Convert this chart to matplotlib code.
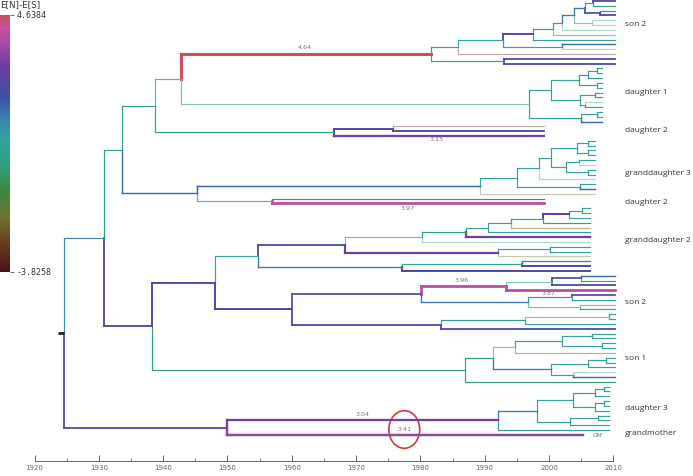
import matplotlib
matplotlib.use("Agg")
import matplotlib.pyplot as plt
import numpy as np
from matplotlib.colors import LinearSegmentedColormap, Normalize
from matplotlib.patches import Ellipse
from matplotlib.collections import LineCollection

# ---------------- data ----------------
VMIN, VMAX = -3.8258, 4.6384
PALE = 0.4          # faint (pale) branch flag / opacity
GREY = -3.3         # value of the faint greyish branches

T1 = 2010.3   # tip date, son 2 / son 1 clades
T2 = 2008.3   # daughter 1
T3 = 1999.2   # daughter 2
T4 = 2007.2   # granddaughter 3
T5 = 2006.3   # granddaughter 2
T6 = 2009.3   # daughter 3
T_GM = 2005.3 # grandmother sample

# node = (date, E[N]-E[S] of branch leading to it, [children]) ; leaf = (date, value[, pale])
son2_top = (1981.6, 4.64, [
    (1985.9, 0.5, [
        (1992.8, 0.5, [
            (1997.5, 2.4, [
                (2000.6, 0.5, [
                    (2002.0, 0.5, [
                        (2003.9, 1.3, [
                            (2005.6, 1.3, [
                                (2006.9, 0.5, [(T1, 2.2), (T1, 0.5)]),
                                (2007.9, 2.0, [(T1, 0.8), (T1, 2.2)]),
                            ]),
                            (2006.7, -0.3, [(T1, -0.3, PALE), (T1, -0.3, PALE)], 0.6),
                        ]),
                        (T1, -0.3, PALE),
                    ]),
                    (T1, 0.3, 0.6),
                ]),
                (T1, 0.5),
            ]),
            (2002.1, 0.5, [(T1, 1.5), (T1, -0.3, PALE)]),
        ]),
        (T1, GREY, PALE),
    ]),
    (1993.0, 0.5, [(T1, 2.2), (T1, 2.2)]),
])

daughter1 = (1996.9, -0.1, [
    (2000.3, 0.4, [
        (2004.6, 0.4, [
            (2006.1, 0.4, [(2007.4, 0.4, [(T2, 0.4), (T2, 0.4)]), (T2, 0.4)]),
            (2007.4, 0.4, [(T2, 0.4), (T2, 0.4)]),
        ]),
        (2004.8, 0.4, [(2007.2, 0.4, [(T2, 0.4), (T2, 0.4)]),
                       (2005.6, 0.4, [(T2, -0.3, PALE), (T2, 0.4)])]),
    ]),
    (2005.0, 0.4, [(2007.4, 0.4, [(T2, 0.4), (T2, 0.4)]), (T2, 1.5)]),
], 0.65)

daughter2_a = (1966.5, -0.1, [
    (1975.7, 2.5, [(T3, GREY, PALE), (T3, 2.3)]),
    (T3, 3.15),
])

granddaughter3 = (1989.3, 1.6, [
    (1995.1, 0.5, [
        (1998.5, 0.5, [
            (2000.3, 0.5, [
                (2004.3, 0.5, [(2006.1, 0.5, [(T4, 0.5), (T4, 0.5)]),
                               (2006.1, 0.5, [(T4, 0.5), (T4, 0.5)])]),
                (2002.7, 0.5, [(2004.6, 0.5, [(T4, 0.5), (T4, -0.3, PALE)]),
                               (2006.1, 0.5, [(T4, 0.5), (T4, 0.5)])]),
            ]),
            (T4, -0.3, PALE),
        ]),
        (2004.8, 0.5, [(T4, 0.5), (T4, 1.5)]),
    ]),
    (T4, -2.0, PALE),
])

daughter2_b = (1957.0, 0.4, [(T3, -0.6), (T3, 3.97)], 0.8)

granddaughter2_a = (1968.3, 2.2, [
    (1980.3, 0.3, [
        (1987.1, -0.5, [
            (1990.5, 0.5, [
                (1994.1, 0.3, [
                    (1999.0, 0.5, [
                        (2003.1, 2.6, [(2005.2, 0.5, [(T5, 0.5), (T5, 0.5)]), (T5, 0.5)]),
                        (T5, 0.0),
                    ]),
                    (T5, GREY, PALE),
                ]),
                (T5, 0.5),
            ]),
            (T5, 3.0),
        ]),
        (T5, -0.3, PALE),
    ], 0.7),
    (1992.1, 2.9, [(2000.1, 0.5, [(T5, 0.5), (T5, 0.5)]), (T5, -2.0, PALE)]),
])

granddaughter2_b = (1977.1, 1.3, [
    (1995.8, 0.5, [(T5, 1.2), (T5, 2.5)]),
    (T5, 2.5),
])

son2_low_a = (1980.1, 2.1, [
    (1993.3, 3.96, [
        (2000.4, -0.2, [(2005.0, 2.0, [(T1, 1.5), (T1, 0.0)]), (T1, 2.2)], 0.6),
        (T1, 3.9),
    ]),
    (1996.7, 1.3, [
        (2003.6, 0.0, [(T1, 2.0), (T1, 0.5)]),
        (2004.8, 0.5, [(T1, GREY, PALE), (T1, 0.5)], 0.7),
    ]),
])

son2_low_b = (1983.2, 2.2, [
    (1996.2, 0.0, [(2009.3, GREY, [(T1, 0.5), (T1, 0.5)], PALE), (T1, 0.5)]),
    (T1, 2.2),
])

son1 = (1987.0, -0.5, [
    (1991.3, 0.0, [
        (1994.7, -0.2, [
            (2002.1, 0.3, [(2006.7, 0.5, [(T1, 0.5), (T1, 0.5)]),
                           (2008.3, 0.5, [(T1, 0.5), (T1, 0.5)])]),
            (T1, GREY, PALE),
        ], 0.6),
        (2000.3, 1.3, [
            (2006.1, 0.5, [(2008.9, 0.5, [(T1, 0.5), (T1, 0.5)]), (T1, 0.5)]),
            (2003.7, 0.5, [(T1, -0.2, PALE), (T1, 1.5)]),
        ]),
    ]),
    (T1, -0.3),
])

daughter3 = (1992.0, 3.04, [
    (1998.2, 1.3, [
        (2003.7, 0.5, [(2007.2, 0.5, [(2008.5, 0.5, [(T6, 0.5), (T6, 0.5)]), (T6, 0.5)]),
                       (2007.2, 0.5, [(2008.5, 0.5, [(T6, 0.5), (T6, 0.5)]), (T6, 0.5)])]),
        (2003.3, 0.0, [(2007.6, 0.5, [(T6, 0.5), (T6, 0.5)]), (T6, 0.5)]),
    ]),
    (T6, 0.5),
])

grandmother = (T_GM, 3.41)

# backbone
node_N = (1942.8, 0.7, [son2_top, daughter1], 0.8)
node_L = (1938.7, -0.1, [node_N, daughter2_a])
node_M = (1945.3, 1.5, [granddaughter3, daughter2_b])
node_K = (1933.6, -0.1, [node_L, node_M])
node_I2 = (1954.8, 0.5, [granddaughter2_a, granddaughter2_b])
node_S2 = (1960.0, 2.5, [son2_low_a, son2_low_b])
node_215 = (1948.1, 2.4, [node_I2, node_S2])
node_152 = (1938.3, 2.3, [node_215, son1])
node_104 = (1930.8, 1.0, [node_K, node_152])
node_GM = (1950.0, 2.2, [daughter3, grandmother])
root = (1924.6, 1.0, [node_104, node_GM])

clade_labels = ["son 2", "daughter 1", "daughter 2", "granddaughter 3", "daughter 2",
                "granddaughter 2", "son 2", "son 1", "daughter 3", "grandmother"]
clade_label_rows = [4.8, 18.9, 26.9, 35.7, 41.8, 49.6, 62.6, 74.1, 84.6, 89.7]

branch_texts = ["4.64", "3.15", "3.97", "3.96", "3.87", "3.04", "3.41"]
branch_text_x = [1962.1, 1982.5, 1978.0, 1986.5, 2000.0, 1971.0, 1977.5]
branch_text_row = [9.6, 28.8, 43.0, 57.9, 60.7, 85.7, 88.8]

# ---------------- colours ----------------
cmap = LinearSegmentedColormap.from_list("enes", [
    (0.00, "#4a1518"), (0.12, "#6a4020"), (0.21, "#6e7530"), (0.32, "#3a8a3c"),
    (0.41, "#32a07a"), (0.52, "#35a2a2"), (0.60, "#3a80b0"), (0.68, "#4050a8"),
    (0.80, "#6a3ea2"), (0.90, "#b04aa8"), (0.95, "#c850a0"), (1.00, "#c85060")])
norm = Normalize(VMIN, VMAX)


def is_leaf(n):
    return not (len(n) >= 3 and isinstance(n[2], list))


def alpha_of(n):
    if is_leaf(n):
        return n[2] if len(n) > 2 else 1.0
    return n[3] if len(n) > 3 else 1.0


def colour(n):
    c = np.array(cmap(norm(n[1]))[:3])
    a = alpha_of(n)
    return tuple(a * c + (1 - a) * np.ones(3))


def width(n):
    return 0.85 + max(0.0, n[1] - 1.0) * 0.38


segs, cols, lws = [], [], []
counter = [0]


def draw(n):
    if is_leaf(n):
        y = counter[0]
        counter[0] += 1
        return y
    ys = [draw(c) for c in n[2]]
    y = (ys[0] + ys[-1]) / 2.0
    x = n[0]
    for c, yc in zip(n[2], ys):
        segs.append([(x, y), (x, yc)])
        segs.append([(x, yc), (c[0], yc)])
        cols.extend([colour(c)] * 2)
        lws.extend([width(c)] * 2)
    return y


# ---------------- figure ----------------
W, H = 693, 476
fig = plt.figure(figsize=(W / 100, H / 100), dpi=100)
fig.patch.set_facecolor("white")

x0, x1 = 34.5, 613.3
y_top, y_bot = 1.0, 434.8
ax = fig.add_axes([x0 / W, 1 - y_bot / H, (x1 - x0) / W, (y_bot - y_top) / H])
ax.set_xlim(1920, 2010)
ax.set_ylim(90, 0)
ax.axis("off")

yroot = draw(root)
lc = LineCollection(segs, colors=cols, linewidths=lws, capstyle="projecting",
                    joinstyle="miter", clip_on=False)
ax.add_collection(lc)
# root stub
ax.plot([root[0] - 0.9, root[0]], [yroot, yroot], color="#222222", lw=2.0,
        solid_capstyle="butt", clip_on=False)

for t, r in zip(clade_labels, clade_label_rows):
    ax.text(2011.8, r, t, fontsize=6.0, family="Open Sans", color="#333333",
            va="center", ha="left", clip_on=False)

for t, xx, r in zip(branch_texts, branch_text_x, branch_text_row):
    ax.text(xx, r, t, fontsize=4.6, color="#777777", ha="center", va="center")

ax.text(2007.6, 90.05, "GM", fontsize=4.3, color="#777777", ha="center",
        va="center", style="italic")

ax.add_patch(Ellipse((1977.5, 88.9), 4.8, 7.8, fill=False, edgecolor="#d23a3a",
                     lw=1.2, clip_on=False))

# ---------------- time axis ----------------
axx = fig.add_axes([x0 / W, 1 - 461 / H, (x1 - x0) / W, 0.0001])
axx.set_xlim(1920, 2010)
axx.set_ylim(0, 1)
for s in ["top", "left", "right"]:
    axx.spines[s].set_visible(False)
axx.spines["bottom"].set_color("#666666")
axx.spines["bottom"].set_linewidth(0.7)
axx.set_yticks([])
axx.set_xticks(np.arange(1920, 2011, 10))
axx.set_xticks(np.arange(1925, 2010, 10), minor=True)
axx.tick_params(axis="x", which="major", direction="in", length=4, width=0.7,
                color="#666666", labelsize=5.0, labelcolor="#666666", pad=3)
axx.tick_params(axis="x", which="minor", direction="in", length=2.5, width=0.6,
                color="#666666")
axx.patch.set_alpha(0)

# ---------------- colour bar ----------------
cax = fig.add_axes([0 / W, 1 - 272 / H, 10 / W, 257 / H])
grad = np.linspace(VMIN, VMAX, 256).reshape(-1, 1)
cax.imshow(grad, aspect="auto", cmap=cmap, norm=norm, origin="lower",
           extent=[0, 1, VMIN, VMAX])
cax.set_xticks([])
cax.yaxis.tick_right()
cax.set_yticks([VMIN, VMAX])
cax.set_yticklabels(["-3.8258", "4.6384"])
cax.tick_params(axis="y", length=3, width=0.6, color="#555555", labelsize=6,
                labelcolor="#333333", pad=2)
for lab in cax.get_yticklabels():
    lab.set_family("DejaVu Sans Mono")
for s in cax.spines.values():
    s.set_visible(False)
fig.text(0.5 / W, 1 - 5 / H, "E[N]-E[S]", fontsize=6.3, color="#333333",
         ha="left", va="center")

fig.savefig("out.png", dpi=100, facecolor="white")
